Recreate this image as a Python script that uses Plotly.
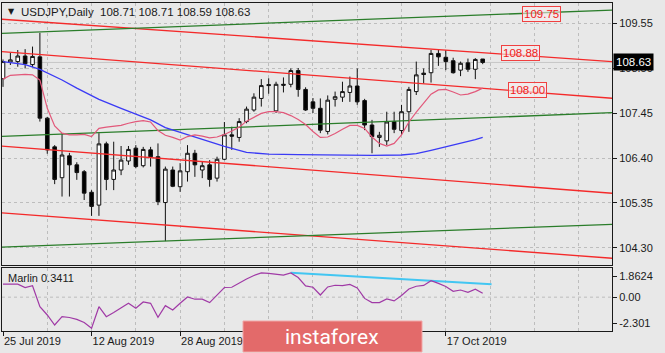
import plotly.graph_objects as go

# ---------------- data ----------------
opens = [108.25, 108.64, 108.65, 108.78, 108.58, 108.76, 107.33, 106.66, 105.94, 106.45,
         106.24, 106.08, 105.60, 105.30, 106.73, 105.90, 106.12, 106.33, 106.63, 106.22,
         106.59, 106.43, 105.36, 106.12, 105.73, 106.08, 106.51, 106.12, 106.24, 105.93,
         106.37, 106.94, 106.88, 107.25, 107.52, 107.79, 108.09, 107.50, 108.12, 108.12,
         108.44, 108.00, 107.71, 107.56, 107.02, 107.77, 107.82, 107.93, 108.08, 107.74,
         107.17, 106.88, 106.80, 107.25, 107.04, 107.48, 107.95, 108.38, 108.39, 108.84,
         108.75, 108.67, 108.45, 108.62, 108.47, 108.71]
highs = [108.70, 108.85, 108.92, 108.94, 109.00, 109.32, 107.36, 106.70, 106.98, 106.52,
         106.30, 106.12, 105.65, 106.98, 106.78, 106.78, 106.68, 106.68, 106.70, 106.66,
         106.66, 106.74, 106.20, 106.20, 106.28, 106.70, 106.59, 106.31, 106.35, 106.43,
         107.24, 107.13, 107.33, 107.60, 107.91, 108.24, 108.26, 108.18, 108.28, 108.49,
         108.50, 108.05, 107.80, 107.79, 107.86, 107.95, 108.18, 108.30, 108.49, 107.78,
         107.29, 107.01, 107.48, 107.48, 107.64, 108.06, 108.65, 108.49, 108.92, 108.94,
         108.92, 108.74, 108.65, 108.72, 108.73, 108.71]
lows = [108.06, 108.57, 108.53, 108.49, 108.52, 107.25, 106.50, 105.79, 105.50, 105.50,
        105.89, 105.42, 105.05, 105.05, 105.65, 105.65, 106.00, 106.24, 106.16, 106.18,
        106.20, 105.30, 104.46, 105.72, 105.61, 105.85, 105.96, 105.93, 105.73, 105.85,
        106.35, 106.59, 106.78, 107.21, 107.48, 107.60, 107.90, 107.45, 107.93, 108.05,
        107.83, 107.50, 107.45, 106.98, 106.95, 107.60, 107.71, 107.71, 107.64, 107.05,
        106.51, 106.66, 106.70, 106.98, 106.94, 107.01, 107.87, 108.14, 108.16, 108.55,
        108.45, 108.37, 108.31, 108.41, 108.24, 108.59]
closes = [108.65, 108.69, 108.78, 108.60, 108.77, 107.33, 106.59, 105.90, 106.47, 106.24,
          106.06, 105.58, 105.27, 106.73, 105.90, 106.12, 106.35, 106.60, 106.20, 106.60,
          106.43, 105.38, 106.14, 105.74, 106.10, 106.51, 106.24, 106.22, 105.90, 106.37,
          106.94, 106.91, 107.25, 107.54, 107.82, 108.09, 108.11, 108.12, 108.10, 108.44,
          108.00, 107.52, 107.56, 107.05, 107.75, 107.83, 107.95, 108.08, 107.71, 107.17,
          106.90, 106.93, 107.24, 107.07, 107.48, 108.00, 108.34, 108.35, 108.84, 108.76,
          108.65, 108.39, 108.61, 108.47, 108.70, 108.63]

# fast moving average (pink), one value per bar
ma_fast = [108.24, 108.33, 108.34, 108.35, 108.34, 108.22, 107.56, 107.15, 106.98, 106.94,
           106.94, 106.95, 106.90, 107.09, 107.12, 107.14, 107.16, 107.21, 107.25, 107.27,
           107.24, 107.04, 106.93, 106.88, 106.82, 106.90, 106.94, 106.91, 106.87, 106.89,
           106.95, 107.03, 107.12, 107.26, 107.35, 107.44, 107.48, 107.48, 107.46, 107.39,
           107.30, 107.18, 107.02, 106.88, 106.89, 106.97, 107.07, 107.16, 107.16, 107.09,
           106.89, 106.74, 106.68, 106.74, 106.94, 107.24, 107.47, 107.68, 107.89, 107.99,
           108.00, 107.94, 107.87, 107.89, 107.95, 108.03]
# slow moving average (blue), sampled bars
ma_slow_bars = [0, 3, 5, 8, 10, 13, 16, 18, 20, 22, 24, 26, 28, 30, 33, 36, 40, 45, 50, 54,
                56, 58, 60, 62, 64, 65]
ma_slow = [108.65, 108.58, 108.47, 108.22, 108.03, 107.77, 107.56, 107.43, 107.29, 107.11,
           107.00, 106.89, 106.77, 106.67, 106.53, 106.49, 106.48, 106.47, 106.46, 106.47,
           106.50, 106.58, 106.66, 106.74, 106.83, 106.88]

# oscillator panel
marlin = [1.14, 1.14, 1.14, 0.85, 1.01, -0.84, -1.57, -2.45, -1.72, -1.79,
          -1.96, -2.23, -2.74, -0.84, -1.72, -1.35, -0.95, -0.54, -0.98, -0.42,
          -0.54, -1.77, -0.75, -1.13, -0.54, 0.02, -0.18, -0.18, -0.48, 0.17,
          0.85, 0.87, 1.25, 1.60, 1.91, 2.13, 2.09, 2.02, 1.94, 2.13,
          1.73, 0.99, 0.87, 0.19, 0.90, 1.05, 1.01, 1.12, 0.81, -0.11,
          -0.48, -0.48, -0.16, -0.33, 0.15, 0.72, 0.96, 1.03, 1.45, 1.21,
          0.94, 0.52, 0.63, 0.43, 0.70, 0.34]
marlin_trend_bars = [39, 66.2]
marlin_trend = [2.15, 1.14]

# trend lines: (bar at left edge, price, bar at right edge, price)
red_lines = [(-0.2, 109.639, 82.6, 108.647),
             (-0.2, 108.883, 82.6, 107.793),
             (-0.2, 106.678, 82.6, 105.576),
             (-0.2, 105.121, 82.6, 104.060)]
green_lines = [(-0.2, 109.310, 82.6, 109.853),
               (-0.2, 106.904, 82.6, 107.457),
               (-0.2, 104.319, 82.6, 104.853)]

price_ticks = [104.30, 105.35, 106.40, 107.45, 108.50, 109.55]
osc_ticks = [1.8624, 0.0, -2.301]
osc_tick_text = ["1.8624", "0.00", "-2.301"]
date_tick_bars = [0, 12, 24, 60]
date_tick_text = ["25 Jul 2019", "12 Aug 2019", "28 Aug 2019", "17 Oct 2019"]
last_price = 108.63
level_labels = [("109.75", 73.0, 109.76), ("108.88", 70.1, 108.85), ("108.00", 71.1, 107.99)]

bars = list(range(len(opens)))

# ---------------- figure ----------------
BG = "#e8e8e8"
GRID = "#bdbdbd"
FONT = "Liberation Sans"

fig = go.Figure()

for (x0, p0, x1, p1) in red_lines:
    fig.add_trace(go.Scatter(x=[x0, x1], y=[p0, p1], mode="lines",
                             line=dict(color="#f42a2a", width=1.3),
                             xaxis="x", yaxis="y", hoverinfo="skip", showlegend=False))
for (x0, p0, x1, p1) in green_lines:
    fig.add_trace(go.Scatter(x=[x0, x1], y=[p0, p1], mode="lines",
                             line=dict(color="#2a7d2a", width=1.3),
                             xaxis="x", yaxis="y", hoverinfo="skip", showlegend=False))

fig.add_trace(go.Scatter(x=ma_slow_bars, y=ma_slow, mode="lines",
                         line=dict(color="#3a3af5", width=1.3),
                         xaxis="x", yaxis="y", hoverinfo="skip", showlegend=False))
fig.add_trace(go.Scatter(x=bars, y=ma_fast, mode="lines",
                         line=dict(color="#e2587a", width=1.2),
                         xaxis="x", yaxis="y", hoverinfo="skip", showlegend=False))

fig.add_trace(go.Candlestick(
    x=bars, open=opens, high=highs, low=lows, close=closes,
    increasing=dict(line=dict(color="#111111", width=1), fillcolor="#ffffff"),
    decreasing=dict(line=dict(color="#111111", width=1), fillcolor="#000000"),
    whiskerwidth=0, xaxis="x", yaxis="y", showlegend=False, hoverinfo="skip"))

fig.add_trace(go.Scatter(x=marlin_trend_bars, y=marlin_trend, mode="lines",
                         line=dict(color="#42c6f2", width=2),
                         xaxis="x2", yaxis="y2", hoverinfo="skip", showlegend=False))
fig.add_trace(go.Scatter(x=bars, y=marlin, mode="lines",
                         line=dict(color="#a03aa6", width=1.2),
                         xaxis="x2", yaxis="y2", hoverinfo="skip", showlegend=False))

W, H = 665, 353
ML, MR, MT, MB = 2, 53, 3, 22
PW = W - ML - MR
PH = H - MT - MB


def px(xp):
    return (xp - ML) / PW


def py(yp):
    return (H - MB - yp) / PH


grid_bars = [0, 6, 12, 18, 24, 30, 36, 42, 48, 54, 60, 66, 72, 78]
xr = [-0.135, 82.52]

fig.update_layout(
    width=W, height=H, autosize=False,
    margin=dict(l=ML, r=MR, t=MT, b=MB),
    paper_bgcolor=BG, plot_bgcolor=BG,
    font=dict(family=FONT, size=11, color="#1a1a1a"),
    xaxis=dict(domain=[0, 1], anchor="y", range=xr, rangeslider=dict(visible=False),
               tickmode="array", tickvals=grid_bars, showticklabels=False, ticks="",
               showgrid=True, gridcolor=GRID, griddash="3px,3px", gridwidth=1,
               showline=True, mirror=True, linecolor="#1a1a1a", linewidth=1,
               zeroline=False, fixedrange=True),
    yaxis=dict(domain=[(H - MB - 265) / PH, 1], anchor="x", side="right",
               range=[103.903, 110.017], tickmode="array", tickvals=price_ticks,
               ticktext=[f"{v:.2f}" for v in price_ticks],
               ticks="outside", ticklen=4, tickcolor="#1a1a1a",
               showgrid=True, gridcolor=GRID, griddash="3px,3px", gridwidth=1,
               showline=True, mirror=True, linecolor="#1a1a1a", linewidth=1,
               zeroline=False, fixedrange=True),
    xaxis2=dict(domain=[0, 1], anchor="y2", range=xr, matches="x",
                tickmode="array", tickvals=date_tick_bars, ticktext=date_tick_text,
                ticklabelposition="outside right",
                ticks="outside", ticklen=4, tickcolor="#1a1a1a",
                showgrid=True, gridcolor=GRID, griddash="3px,3px", gridwidth=1,
                minor=dict(tickvals=[6, 18, 30, 36, 42, 48, 54, 66, 72, 78], showgrid=True,
                           gridcolor=GRID, griddash="3px,3px", ticks=""),
                showline=True, mirror=True, linecolor="#1a1a1a", linewidth=1,
                zeroline=False, fixedrange=True),
    yaxis2=dict(domain=[0, (H - MB - 268) / PH], anchor="x2", side="right",
                range=[-2.979, 2.5666], tickmode="array", tickvals=osc_ticks,
                ticktext=osc_tick_text, ticks="outside", ticklen=4, tickcolor="#1a1a1a",
                showgrid=False, showline=True, mirror=True, linecolor="#1a1a1a",
                linewidth=1, zeroline=False, fixedrange=True),
)

shapes = [
    dict(type="line", xref="paper", yref="y2", x0=0, x1=1, y0=0, y1=0,
         line=dict(color=GRID, width=1, dash="3px,3px"), layer="below"),
    dict(type="line", xref="paper", yref="y", x0=0, x1=1, y0=last_price, y1=last_price,
         line=dict(color="#c6c6c6", width=1), layer="below"),
    dict(type="rect", xref="paper", yref="paper", x0=px(243), x1=px(422),
         y0=py(352), y1=py(321), fillcolor="#e36a6a",
         line=dict(color="#f2a6a6", width=1), layer="above"),
]
fig.update_layout(shapes=shapes)

ann = [
    dict(text="▼", xref="paper", yref="paper", x=px(6), y=py(11), xanchor="left",
         yanchor="middle", showarrow=False, font=dict(family="DejaVu Sans", size=8, color="#1a1a1a")),
    dict(text="USDJPY,Daily\u00a0\u00a0108.71 108.71 108.59 108.63", xref="paper", yref="paper",
         x=px(19), y=py(12), xanchor="left", yanchor="middle", showarrow=False,
         font=dict(family=FONT, size=11.5, color="#1a1a1a")),
    dict(text="Marlin 0.3411", xref="paper", yref="paper", x=px(6), y=py(278),
         xanchor="left", yanchor="middle", showarrow=False,
         font=dict(family=FONT, size=11, color="#1a1a1a")),
    dict(text=f"{last_price:.2f}", xref="paper", yref="y", x=1, y=last_price,
         xanchor="left", yanchor="middle", xshift=1, showarrow=False,
         bgcolor="#000000", borderpad=2, font=dict(family=FONT, size=11.5, color="#ffffff")),
    dict(text="instaforex", xref="paper", yref="paper", x=px(332), y=py(337),
         xanchor="center", yanchor="middle", showarrow=False,
         font=dict(family="Roboto", size=21, color="#ffffff")),
]
for t, bx, by in level_labels:
    ann.append(dict(text=t, xref="x", yref="y", x=bx, y=by, xanchor="center",
                    yanchor="middle", showarrow=False, bordercolor="#f04040",
                    borderwidth=1, borderpad=1, bgcolor="rgba(246,236,236,0.6)",
                    font=dict(family=FONT, size=11.5, color="#f02020")))
fig.update_layout(annotations=ann)

fig.write_html("out.html")
